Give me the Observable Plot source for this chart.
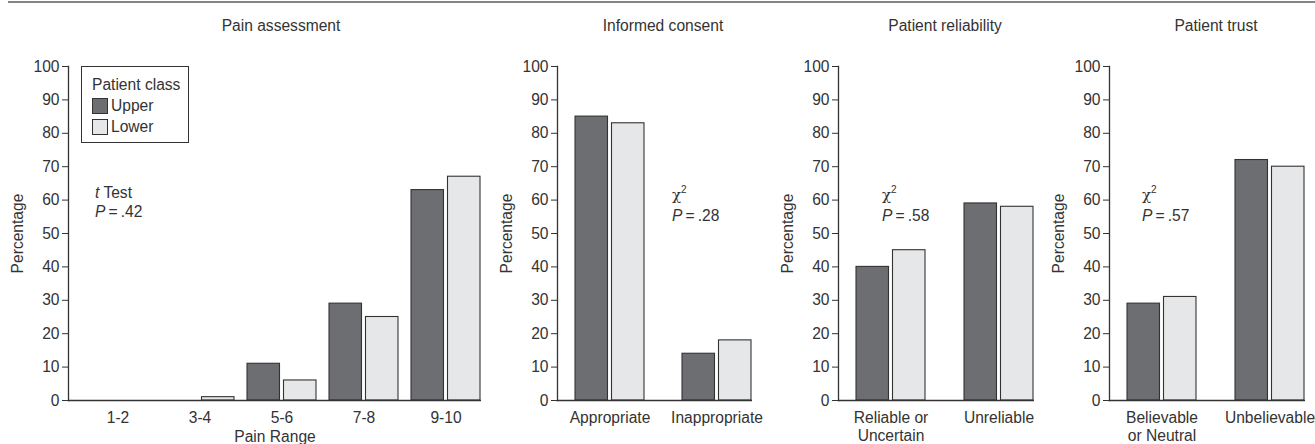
<!DOCTYPE html>
<html>
<head>
<meta charset="utf-8">
<script src="https://cdn.jsdelivr.net/npm/d3@7"></script>
<script src="https://cdn.jsdelivr.net/npm/@observablehq/plot@0.6"></script>
<style>
  html, body { margin: 0; padding: 0; background: #fff; }
  #root { position: relative; width: 1315px; height: 444px; overflow: hidden;
          font-family: "Liberation Sans", Arial, Helvetica, sans-serif; font-size: 15.6px; color: #333; }
  .topline { position: absolute; left: 8px; top: 1px; width: 1307px; height: 2px; background: #858585; }
  .title { position: absolute; top: 16px; line-height: 20px; white-space: nowrap; transform: translateX(-50%); }
  .panel { position: absolute; top: 44px; }
  .panel svg { overflow: visible; }
  .note { position: absolute; line-height: 19px; white-space: nowrap; }
  .note .chi { font-family: "DejaVu Serif", serif; font-size: 15px; }
  .note sup { font-size: 10px; vertical-align: 0; position: relative; top: -7px; }
  .legend { position: absolute; left: 81px; top: 66px; width: 106px; height: 75px; border: 1.5px solid #333;
            background: #fff; box-sizing: content-box; }
  .legend .ttl { position: absolute; left: 10px; top: 9px; line-height: 18px; white-space: nowrap; }
  .legend .row { position: absolute; left: 10px; height: 16px; line-height: 16px; white-space: nowrap; }
  .legend .sw { display: inline-block; width: 14px; height: 14px; border: 1px solid #333; vertical-align: top; margin-right: 3px; }
</style>
</head>
<body>
<div id="root"></div>
<script>
// ---- data ----
const classes = ["Upper", "Lower"];
const classColors = ["#6d6e71", "#e6e7e8"];
const yTicks = [0, 10, 20, 30, 40, 50, 60, 70, 80, 90, 100];

const panelTitles = ["Pain assessment", "Informed consent", "Patient reliability", "Patient trust"];

const painCategories = ["1-2", "3-4", "5-6", "7-8", "9-10"];
const painUpper = [0, 0, 11, 29, 63];
const painLower = [0, 1, 6, 25, 67];

const consentCategories = ["Appropriate", "Inappropriate"];
const consentUpper = [85, 14];
const consentLower = [83, 18];

const reliabilityCategories = ["Reliable or\nUncertain", "Unreliable"];
const reliabilityUpper = [40, 59];
const reliabilityLower = [45, 58];

const trustCategories = ["Believable\nor Neutral", "Unbelievable"];
const trustUpper = [29, 72];
const trustLower = [31, 70];

const notes = [
  ["<i>t</i> Test", "<i>P</i>\u2009=\u2009.42"],
  ["<span class='chi'>\u03C7</span><sup>2</sup>", "<i>P</i>\u2009=\u2009.28"],
  ["<span class='chi'>\u03C7</span><sup>2</sup>", "<i>P</i>\u2009=\u2009.58"],
  ["<span class='chi'>\u03C7</span><sup>2</sup>", "<i>P</i>\u2009=\u2009.57"]
];

// ---- layout (page pixel coordinates) ----
const layouts = [
  {left: 0,    width: 490, axis: 68,   right: 481,  c0: 116,   c1: 446,    titleX: 281,  noteX: 95,   noteY: 183, xLabel: "Pain Range"},
  {left: 490,  width: 280, axis: 557,  right: 752,  c0: 609.3, c1: 717,    titleX: 663,  noteX: 672,  noteY: 185, xLabel: null},
  {left: 770,  width: 275, axis: 838,  right: 1034, c0: 890.5, c1: 998.5,  titleX: 945,  noteX: 882,  noteY: 185, xLabel: null},
  {left: 1045, width: 270, axis: 1109, right: 1305, c0: 1161.5,c1: 1269.8, titleX: 1216, noteX: 1142, noteY: 185, xLabel: null}
];
const panelData = [
  [painCategories, painUpper, painLower],
  [consentCategories, consentUpper, consentLower],
  [reliabilityCategories, reliabilityUpper, reliabilityLower],
  [trustCategories, trustUpper, trustLower]
];

const root = document.getElementById("root");
const line = document.createElement("div");
line.className = "topline";
root.appendChild(line);

const PAIR = 69; // pixel width of a pair of bars

layouts.forEach((L, k) => {
  const [cats, up, lo] = panelData[k];
  const rows = cats.flatMap((c, i) => [
    {cat: c, cls: classes[0], v: up[i]},
    {cat: c, cls: classes[1], v: lo[i]}
  ]);
  const n = cats.length;
  const step = (L.c1 - L.c0) / (n - 1);
  const pi = 1 - PAIR / step;
  const inset = PAIR / 2 + 2;
  const r0 = L.c0 - step / 2 - L.left;
  const r1 = L.c1 + step / 2 - L.left;

  const chart = Plot.plot({
    width: L.width,
    height: 400,
    marginTop: 22,
    marginBottom: 44,
    marginLeft: L.axis - L.left,
    marginRight: L.left + L.width - L.right,
    style: {fontFamily: '"Liberation Sans", Arial, Helvetica, sans-serif', fontSize: "15.6px", color: "#333", background: "transparent", overflow: "visible"},
    x: {domain: cats, range: [r0, r1], paddingInner: pi, paddingOuter: pi / 2, align: 0.5},
    y: {domain: [0, 100]},
    color: {domain: classes, range: classColors},
    marks: [
      Plot.barY(rows.filter(d => d.cls === classes[0]), {x: "cat", y: "v", fill: "cls", stroke: "#333", strokeWidth: 1.1, insetRight: inset}),
      Plot.barY(rows.filter(d => d.cls === classes[1]), {x: "cat", y: "v", fill: "cls", stroke: "#333", strokeWidth: 1.1, insetLeft: inset}),
      Plot.ruleY([0], {stroke: "#333", strokeWidth: 1.3}),
      Plot.frame({anchor: "left", stroke: "#333", strokeWidth: 1.3}),
      Plot.axisY({ticks: yTicks, tickSize: 6, tickPadding: 3, label: "Percentage", labelAnchor: "center", labelOffset: 57, labelArrow: "none"}),
      Plot.axisX({tickSize: 0, tickPadding: 10, lineHeight: 1.15, label: L.xLabel, labelAnchor: "center", labelOffset: 41, labelArrow: "none"})
    ]
  });
  const wrap = document.createElement("div");
  wrap.className = "panel";
  wrap.style.left = L.left + "px";
  wrap.appendChild(chart);
  root.appendChild(wrap);

  const t = document.createElement("div");
  t.className = "title";
  t.style.left = L.titleX + "px";
  t.textContent = panelTitles[k];
  root.appendChild(t);

  const nt = document.createElement("div");
  nt.className = "note";
  nt.style.left = L.noteX + "px";
  nt.style.top = L.noteY + "px";
  nt.innerHTML = notes[k].join("<br>");
  root.appendChild(nt);
});

// legend
const lg = document.createElement("div");
lg.className = "legend";
lg.innerHTML = `<div class="ttl">Patient class</div>` +
  classes.map((c, i) => `<div class="row" style="top:${31 + i * 21}px"><span class="sw" style="background:${classColors[i]}"></span>${c}</div>`).join("");
root.appendChild(lg);
</script>
</body>
</html>
